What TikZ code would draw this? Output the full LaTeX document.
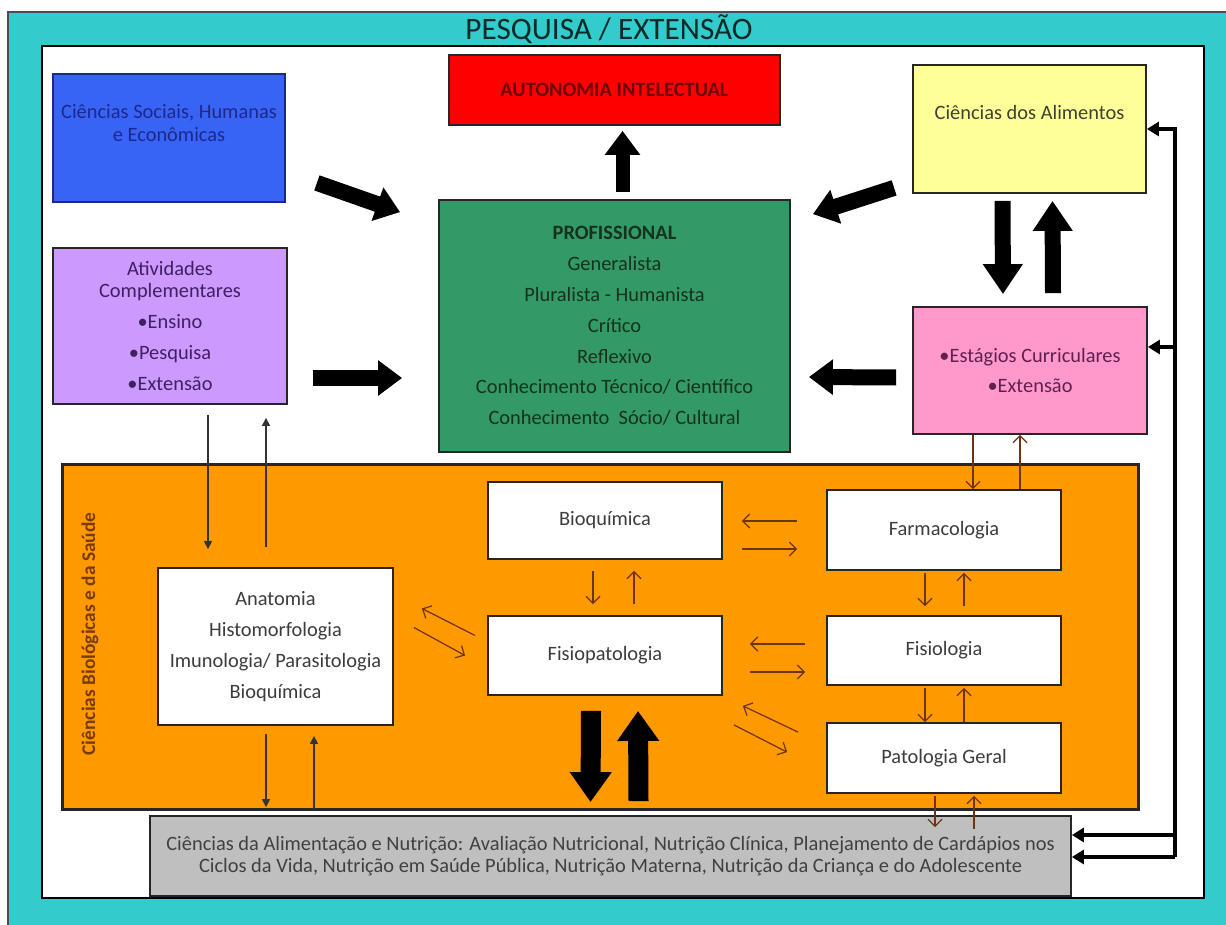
\documentclass[tikz,border=0pt]{standalone}
\usepackage{fontspec}
\setmainfont{Carlito}
\usetikzlibrary{arrows.meta,calc}

\definecolor{cyanbg}{RGB}{51,204,204}
\definecolor{socfill}{RGB}{55,100,245}
\definecolor{soctext}{RGB}{30,40,140}
\definecolor{autofill}{RGB}{255,0,0}
\definecolor{autotext}{RGB}{110,0,0}
\definecolor{alimfill}{RGB}{255,255,153}
\definecolor{alimtext}{RGB}{64,64,50}
\definecolor{ativfill}{RGB}{204,153,255}
\definecolor{ativtext}{RGB}{64,32,96}
\definecolor{proffill}{RGB}{51,153,102}
\definecolor{proftext}{RGB}{20,50,30}
\definecolor{estfill}{RGB}{255,153,204}
\definecolor{esttext}{RGB}{96,32,80}
\definecolor{biofill}{RGB}{255,153,0}
\definecolor{biotext}{RGB}{120,60,0}
\definecolor{nutfill}{RGB}{191,191,191}
\definecolor{nuttext}{RGB}{64,64,64}
\definecolor{boxtext}{RGB}{60,60,60}
\definecolor{thinbrown}{RGB}{110,50,20}

\tikzset{
  card/.style={draw=black!85, line width=0.9pt, inner sep=0pt, align=center,
    font=\fontsize{10.2}{12}\selectfont},
  disc/.style={card, fill=white, text=boxtext},
  thinarrow/.style={draw=thinbrown, line width=0.6pt, -{Straight Barb[length=3.5pt,width=7pt]}},
  darkarrow/.style={draw=black!80, line width=0.6pt, -{Triangle[length=4pt,width=4pt]}},
  fatarrow/.style={draw=black, line width=8pt, -{Triangle[length=12pt,width=17pt]}},
  hugearrow/.style={draw=black, line width=10pt, -{Triangle[length=15pt,width=20pt]}},
  busline/.style={draw=black, line width=2pt, -{Triangle[length=6pt,width=7pt]}}
}

\begin{document}
\begin{tikzpicture}[x=0.5pt,y=-0.5pt]
    \useasboundingbox (0,0) rectangle (1226,925);
    % frame
    \node[draw=black!70, line width=1pt, fill=cyanbg, minimum width=620pt, minimum height=470pt, inner sep=0pt]
        (frame) at (628,482) {};
    \node[draw=black, line width=1pt, fill=white, minimum width=581pt, minimum height=426pt, inner sep=0pt]
        (inner) at (623,472) {};
    \node[text=black!80!cyanbg, font=\fontsize{15.6}{18}\selectfont] (title) at (609,29) {PESQUISA / EXTENSÃO};

    % upper boxes
    \node[card, draw=soctext, fill=socfill, minimum width=116pt, minimum height=64pt]
        (soc) at (169,138) {};
    \node[text=soctext, font=\fontsize{10.2}{11.5}\selectfont, align=center]
        (socTxt) at (169,123) {Ciências Sociais, Humanas\\e Econômicas};
    \node[card, fill=autofill, text=autotext, minimum width=165.5pt, minimum height=35pt, font=\fontsize{10.2}{12}\bfseries]
        (auto) at (614.5,90) {AUTONOMIA INTELECTUAL};
    \node[card, fill=alimfill, minimum width=116.5pt, minimum height=64pt]
        (alim) at (1029.5,129) {};
    \node[text=alimtext, font=\fontsize{10.2}{12}\selectfont]
        (alimTxt) at (1029.5,112) {Ciências dos Alimentos};
    \node[card, fill=ativfill, text=ativtext, minimum width=117pt, minimum height=78pt]
        (ativ) at (170,326) {Atividades\\[-1pt] Complementares\\[3.4pt] •Ensino\\[3.4pt] •Pesquisa\\[3.4pt] •Extensão};
    \node[card, fill=proffill, text=proftext, minimum width=175.5pt, minimum height=126pt]
        (prof) at (614.5,326) {\textbf{PROFISSIONAL}\\[3.4pt] Generalista\\[3.4pt] Pluralista - Humanista\\[3.4pt]
        Crítico\\[3.4pt] Reflexivo\\[3.4pt] Conhecimento Técnico/ Científico\\[3.4pt] Conhecimento\ \ Sócio/ Cultural};
    \node[card, fill=estfill, text=esttext, minimum width=117pt, minimum height=63.5pt]
        (est) at (1030,370.5) {•Estágios Curriculares\\[3.4pt] •Extensão};

    % biological sciences
    \node[draw=black!85, line width=1.5pt, fill=biofill, minimum width=538pt, minimum height=172.5pt, inner sep=0pt]
        (bio) at (600,636.5) {};
    \node[rotate=90, text=biotext, font=\fontsize{9.7}{11}\bfseries\selectfont]
        (bioTxt) at (90,634) {Ciências Biológicas e da Saúde};
    \node[disc, minimum width=117.5pt, minimum height=78.5pt]
        (anat) at (275.5,646.5) {Anatomia\\[3.4pt] Histomorfologia\\[3.4pt] Imunologia/ Parasitologia\\[3.4pt] Bioquímica};
    \node[disc, minimum width=117pt, minimum height=38.5pt] (bioq) at (605,520.5) {Bioquímica};
    \node[disc, minimum width=117pt, minimum height=39.5pt] (fpat) at (605,655.5) {Fisiopatologia};
    \node[disc, minimum width=117pt, minimum height=40pt] (farm) at (944,530) {Farmacologia};
    \node[disc, minimum width=117pt, minimum height=34.5pt] (fisl) at (944,650.5) {Fisiologia};
    \node[disc, minimum width=117pt, minimum height=35pt] (patg) at (944,758) {Patologia Geral};

    \node[card, fill=nutfill, text=nuttext, minimum width=460.5pt, minimum height=40pt, font=\fontsize{10.2}{10.8}\selectfont]
        (nut) at (610.5,856) {Ciências da Alimentação e Nutrição: Avaliação Nutricional, Nutrição Clínica, Planejamento de Cardápios nos\\
        Ciclos da Vida, Nutrição em Saúde Pública, Nutrição Materna, Nutrição da Criança e do Adolescente};

    % block arrows
    \draw[fatarrow] ($(soc.south east)+(31,-20)$) -- ($(prof.north west)+(-38,13)$);
    \draw[fatarrow] ($(ativ.east)+(25,52)$) -- ($(prof.west)+(-36,52)$);
    \draw[fatarrow, line width=7pt] ($(prof.north)+(8,-7)$) -- ($(auto.south)+(8,5)$);
    \draw[fatarrow] ($(alim.south west)+(-18,-6)$) -- ($(prof.north east)+(22,15)$);
    \draw[fatarrow] ($(est.west)+(-16,7)$) -- ($(prof.east)+(18,51)$);
    \draw[fatarrow, -{Triangle[length=15pt,width=19pt]}] ($(alim.south)+(-27,7)$) -- ($(est.north)+(-27,-12)$);
    \draw[fatarrow, -{Triangle[length=15pt,width=19pt]}] ($(est.north)+(23,-13)$) -- ($(alim.south)+(23,7)$);
    \draw[hugearrow] ($(fpat.south)+(-14,15)$) -- ($(nut.north)+(-20,-13)$);
    \draw[hugearrow] ($(nut.north)+(28,-14)$) -- ($(fpat.south)+(33,15)$);

    % thin arrows
    \draw[darkarrow, shorten <=5pt, shorten >=9pt] (208,0 |- ativ.south) -- (208,0 |- anat.north);
    \draw[darkarrow, shorten <=10pt, shorten >=6.5pt] (266,0 |- anat.north) -- (266,0 |- ativ.south);
    \draw[darkarrow, shorten <=4pt, shorten >=4pt] (266,0 |- anat.south) -- (266,0 |- nut.north);
    \draw[darkarrow, shorten <=3pt, shorten >=5pt] (314,0 |- nut.north) -- (314,0 |- anat.south);
    \draw[thinarrow, shorten <=5.5pt, shorten >=5.5pt] (593,0 |- bioq.south) -- (593,0 |- fpat.north);
    \draw[thinarrow, shorten <=5.5pt, shorten >=5.5pt] (634,0 |- fpat.north) -- (634,0 |- bioq.south);
    \draw[thinarrow, shorten <=14.5pt, shorten >=9.5pt] (farm.west |- 0,521) -- (bioq.east |- 0,521);
    \draw[thinarrow, shorten <=9.5pt, shorten >=14.5pt] (bioq.east |- 0,549) -- (farm.west |- 0,549);
    \draw[thinarrow, shorten <=10.5pt, shorten >=13.5pt] (fisl.west |- 0,644) -- (fpat.east |- 0,644);
    \draw[thinarrow, shorten <=13.5pt, shorten >=10.5pt] (fpat.east |- 0,672) -- (fisl.west |- 0,672);
    \draw[thinarrow] ($(patg.north west)+(-28,10)$) -- ($(fpat.south east)+(20,10)$);
    \draw[thinarrow] ($(fpat.south east)+(11,29)$) -- ($(patg.north west)+(-39,30)$);
    \draw[thinarrow] ($(fpat.west)+(-12,-20)$) -- ($(anat.east)+(28,-38)$);
    \draw[thinarrow] ($(anat.east)+(20,-19)$) -- ($(fpat.west)+(-22,0)$);
    \draw[thinarrow, shorten <=1pt, shorten >=4.5pt] (925,0 |- farm.south) -- (925,0 |- fisl.north);
    \draw[thinarrow, shorten <=4.5pt, shorten >=1pt] (964,0 |- fisl.north) -- (964,0 |- farm.south);
    \draw[thinarrow, shorten <=1pt] (925,0 |- fisl.south) -- (925,0 |- patg.north);
    \draw[thinarrow, shorten >=1pt] (964,0 |- patg.north) -- (964,0 |- fisl.south);
    \draw[thinarrow, shorten <=1pt, shorten >=-6pt] (935,0 |- patg.south) -- (935,0 |- nut.north);
    \draw[thinarrow, shorten <=-7pt, shorten >=1pt] (974,0 |- nut.north) -- (974,0 |- patg.south);
    \draw[thinarrow] (973,0 |- est.south) -- (973,0 |- farm.north);
    \draw[thinarrow] (1020,0 |- farm.north) -- (1020,0 |- est.south);

    % right bus
    \coordinate (busEst) at (1175,347);
    \coordinate (busNutA) at (1175,835);
    \coordinate (busNutB) at (1175,857);
    \draw[busline] (busNutB) |- (alim.east);
    \draw[busline] (busEst) -- (est.east |- busEst);
    \draw[busline] (busNutA) -- (nut.east |- busNutA);
    \draw[busline] (busNutB) -- (nut.east |- busNutB);
\end{tikzpicture}
\end{document}
